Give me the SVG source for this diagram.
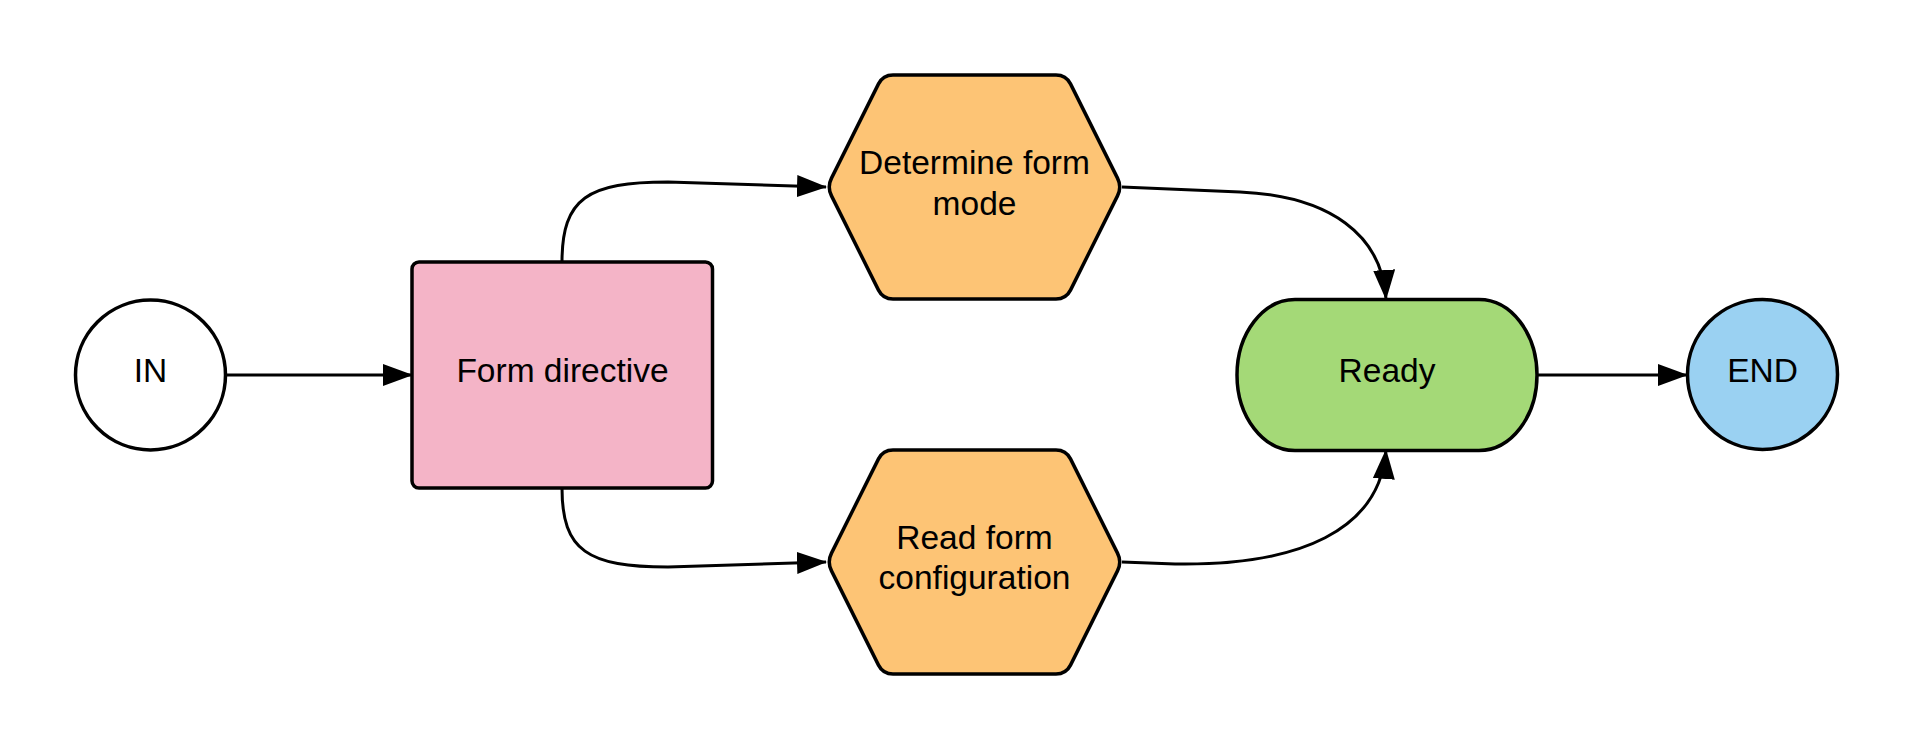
<svg xmlns="http://www.w3.org/2000/svg" width="1913" height="750" viewBox="0 0 1913 750">
<style>
.shape{stroke:#000;stroke-width:3.5;stroke-linejoin:round}
.lbl{font-family:"Liberation Sans",Arial,sans-serif;font-size:33.5px;fill:#000;text-anchor:middle}
.conn{fill:none;stroke:#000;stroke-width:3}
</style>
<defs>
<marker id="arr" markerUnits="userSpaceOnUse" markerWidth="30" markerHeight="22" refX="29" refY="11" orient="auto">
<path d="M0,0 L30,11 L0,22 Z" fill="#000"/>
</marker>
</defs>
<rect width="1913" height="750" fill="#fff"/>
<g id="connectors">
<path class="conn" d="M226,375 L412,375" marker-end="url(#arr)"/>
<path class="conn" d="M562,262 C562,198 588,182 668,182 L826,187" marker-end="url(#arr)"/>
<path class="conn" d="M562,488 C562,551 588,567 668,567 L826,562" marker-end="url(#arr)"/>
<path class="conn" d="M1122,187 L1240,192 C1330,196 1382,235 1386,299" marker-end="url(#arr)"/>
<path class="conn" d="M1122,562 L1175,564 C1300,566 1380,530 1386,450" marker-end="url(#arr)"/>
<path class="conn" d="M1537,375 L1687,375" marker-end="url(#arr)"/>
</g>
<g id="node-in">
<circle class="shape" cx="150.5" cy="375" r="75" fill="#fff"/>
<text class="lbl" x="150.5" y="382">IN</text>
</g>
<g id="node-form-directive">
<rect class="shape" x="412" y="262" width="300.5" height="226" rx="7" fill="#F4B4C7"/>
<text class="lbl" x="562.5" y="382">Form directive</text>
</g>
<g id="node-determine">
<path class="shape" fill="#FDC475" d="M893,75 L1056,75 Q1066,75 1070.5,83.9 L1117.5,178.1 Q1122,187 1117.5,195.9 L1070.5,290.1 Q1066,299 1056,299 L893,299 Q883,299 878.5,290.1 L831.5,195.9 Q827,187 831.5,178.1 L878.5,83.9 Q883,75 893,75 Z"/>
<text class="lbl" x="974.5" y="174">Determine form</text>
<text class="lbl" x="974.5" y="214.5">mode</text>
</g>
<g id="node-read-config">
<path class="shape" fill="#FDC475" d="M893,450 L1056,450 Q1066,450 1070.5,458.9 L1117.5,553.1 Q1122,562 1117.5,570.9 L1070.5,665.1 Q1066,674 1056,674 L893,674 Q883,674 878.5,665.1 L831.5,570.9 Q827,562 831.5,553.1 L878.5,458.9 Q883,450 893,450 Z"/>
<text class="lbl" x="974.5" y="549">Read form</text>
<text class="lbl" x="974.5" y="589">configuration</text>
</g>
<g id="node-ready">
<path class="shape" fill="#A4D977" d="M1295,299.5 L1479,299.5 A58,75.5 0 0 1 1479,450.5 L1295,450.5 A58,75.5 0 0 1 1295,299.5 Z"/>
<text class="lbl" x="1387" y="382">Ready</text>
</g>
<g id="node-end">
<circle class="shape" cx="1762.5" cy="374.5" r="75" fill="#9AD1F2"/>
<text class="lbl" x="1762.5" y="382">END</text>
</g>
</svg>
